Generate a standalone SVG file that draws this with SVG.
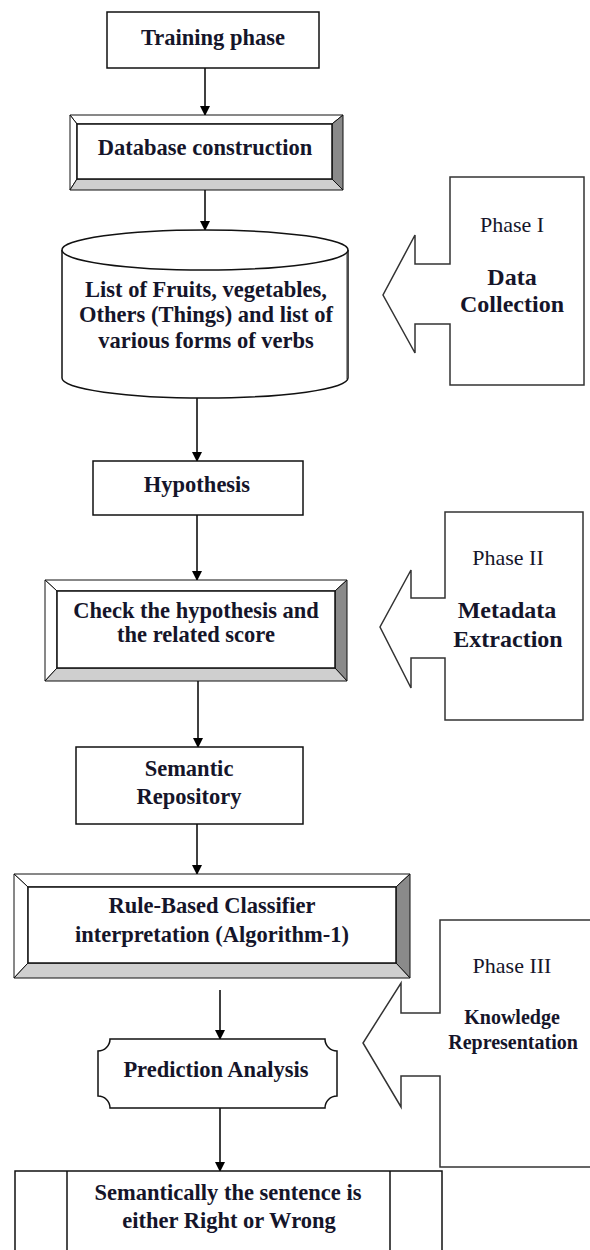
<svg xmlns="http://www.w3.org/2000/svg" width="590" height="1250" viewBox="0 0 590 1250">
<style>
.t{font-family:"Liberation Serif","Times New Roman",serif;font-weight:bold;font-size:22.5px;fill:#15152a;text-anchor:middle}
.n{font-family:"Liberation Serif","Times New Roman",serif;font-weight:normal;font-size:22px;fill:#15152a;text-anchor:middle}
.s{font-size:20px}
.l{font-size:24px}
.box{fill:#fff;stroke:#111;stroke-width:1.5}
.ph{fill:#fff;stroke:#333;stroke-width:1.5}
.c{stroke:#000;stroke-width:1.5;fill:none;marker-end:url(#ah)}
.bl{fill:#fff;stroke:#111;stroke-width:1}
.bd{fill:#8a8a8a;stroke:#111;stroke-width:1}
.bb{fill:#cfcfcf;stroke:#111;stroke-width:1}
</style>
<defs>
<marker id="ah" markerWidth="10" markerHeight="10" refX="9" refY="5" orient="auto" markerUnits="userSpaceOnUse">
<path d="M0,0 L10,5 L0,10 Z" fill="#000"/>
</marker>
</defs>

<g id="connectors">
<line class="c" x1="205" y1="68" x2="205" y2="115"/>
<line class="c" x1="205" y1="190" x2="205" y2="230"/>
<line class="c" x1="197" y1="398" x2="197" y2="461"/>
<line class="c" x1="197" y1="515" x2="197" y2="580"/>
<line class="c" x1="198" y1="681" x2="198" y2="747"/>
<line class="c" x1="197" y1="824" x2="197" y2="874"/>
<line class="c" x1="220" y1="990" x2="220" y2="1039"/>
<line class="c" x1="220" y1="1108" x2="220" y2="1171"/>
</g>

<g id="training">
<rect class="box" x="107" y="12" width="212" height="56"/>
<text class="t" x="213" y="45">Training phase</text>
</g>

<g id="database">
<polygon class="bl" points="70,115 343,115 332,124 77,124"/>
<polygon class="bl" points="70,115 77,124 77,179 70,190"/>
<polygon class="bd" points="343,115 343,190 332,179 332,124"/>
<polygon class="bb" points="70,190 343,190 332,179 77,179"/>
<rect class="box" x="77" y="124" width="255" height="55"/>
<text class="t" x="205" y="155">Database construction</text>
</g>

<g id="list">
<path class="box" d="M62,250 V378 A143,20 0 0 0 348,378 V250"/>
<line x1="346.5" y1="252" x2="346.5" y2="380" stroke="#999" stroke-width="1"/>
<ellipse class="box" cx="205" cy="250" rx="143" ry="20"/>
<text class="t" x="206" y="297">List of Fruits, vegetables,</text>
<text class="t" x="206" y="322">Others (Things) and list of</text>
<text class="t" x="206" y="348">various forms of verbs</text>
</g>

<g id="phase1">
<path class="ph" d="M450,177 H584 V385 H450 V324 H415 V353 L383,295 L415,235 V264 H450 Z"/>
<text class="n" x="512" y="232">Phase I</text>
<text class="t l" x="512" y="285">Data</text>
<text class="t l" x="512" y="312">Collection</text>
</g>

<g id="hypothesis">
<rect class="box" x="93" y="461" width="210" height="54"/>
<text class="t" x="197" y="492">Hypothesis</text>
</g>

<g id="check">
<polygon class="bl" points="45,580 347,580 335,591 57,591"/>
<polygon class="bl" points="45,580 57,591 57,668 45,681"/>
<polygon class="bd" points="347,580 347,681 335,668 335,591"/>
<polygon class="bb" points="45,681 347,681 335,668 57,668"/>
<rect class="box" x="57" y="591" width="278" height="77"/>
<text class="t" x="196" y="618">Check the hypothesis and</text>
<text class="t" x="196" y="642">the related score</text>
</g>

<g id="phase2">
<path class="ph" d="M445,512 H583 V720 H445 V658 H411 V688 L380,627 L411,570 V598 H445 Z"/>
<text class="n" x="508" y="565">Phase II</text>
<text class="t l" x="507" y="618">Metadata</text>
<text class="t l" x="508" y="647">Extraction</text>
</g>

<g id="semantic">
<rect class="box" x="76" y="747" width="227" height="77"/>
<text class="t" x="189" y="776">Semantic</text>
<text class="t" x="189" y="804">Repository</text>
</g>

<g id="rule">
<polygon class="bl" points="14,874 410,874 396,887 28,887"/>
<polygon class="bl" points="14,874 28,887 28,963 14,978"/>
<polygon class="bd" points="410,874 410,978 396,963 396,887"/>
<polygon class="bb" points="14,978 410,978 396,963 28,963"/>
<rect class="box" x="28" y="887" width="368" height="76"/>
<text class="t" x="212" y="913">Rule-Based Classifier</text>
<text class="t" x="212" y="942">interpretation (Algorithm-1)</text>
</g>

<g id="phase3">
<path class="ph" d="M440,920 H600 V1167 H440 V1076 H401 V1107 L363,1043 L401,983 V1013 H440 Z"/>
<text class="n" x="512" y="973">Phase III</text>
<text class="t s" x="512" y="1024">Knowledge</text>
<text class="t s" x="513" y="1049">Representation</text>
</g>

<g id="prediction">
<path class="box" d="M110,1039 H325 A12,12 0 0 0 337,1051 V1096 A12,12 0 0 0 325,1108 H110 A12,12 0 0 0 98,1096 V1051 A12,12 0 0 0 110,1039 Z"/>
<text class="t" x="216" y="1077">Prediction Analysis</text>
</g>

<g id="result">
<rect class="box" x="15" y="1171" width="427" height="100"/>
<line x1="67" y1="1171" x2="67" y2="1260" stroke="#111" stroke-width="1.5"/>
<line x1="390" y1="1171" x2="390" y2="1260" stroke="#111" stroke-width="1.5"/>
<text class="t" x="228" y="1200">Semantically the sentence is</text>
<text class="t" x="229" y="1228">either Right or Wrong</text>
</g>
</svg>
